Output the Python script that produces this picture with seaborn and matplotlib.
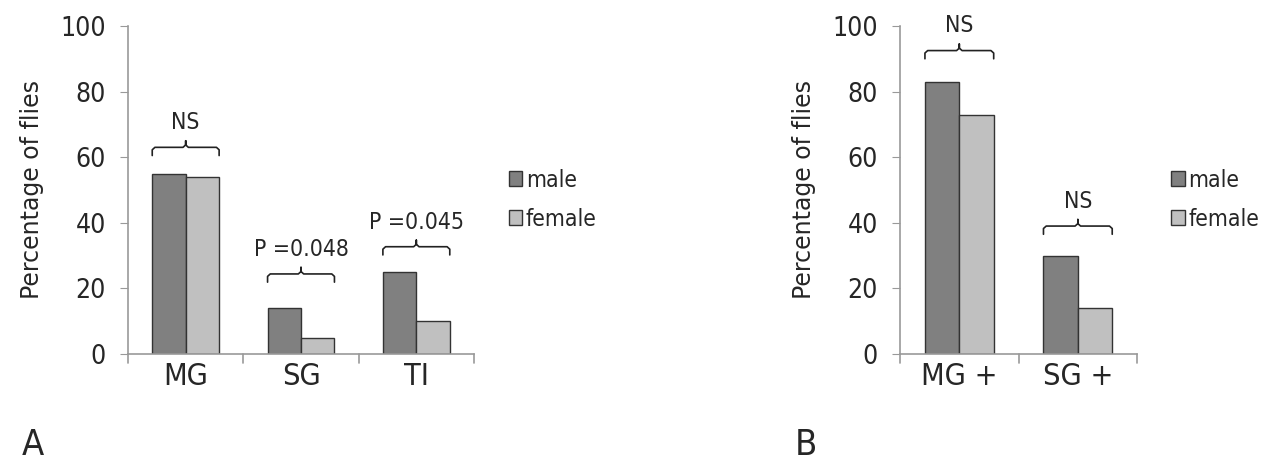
import matplotlib
matplotlib.use("Agg")
import matplotlib.pyplot as plt
import pandas as pd
import seaborn as sns

# Panel A data
cats_a = ["MG", "SG", "TI"]
male_a = [55, 14, 25]
female_a = [54, 5, 10]
notes_a = ["NS", "P =0.048", "P =0.045"]

# Panel B data
cats_b = ["MG +", "SG +"]
male_b = [83, 30]
female_b = [73, 14]
notes_b = ["NS", "NS"]

sexes = ["male", "female"]
colors = ["#808080", "#c0c0c0"]

sns.set_style("white")
plt.rcParams["font.family"] = ["DejaVu Sans"]

NARROW = dict(family=["DejaVu Sans"], fontstretch="condensed")


def to_frame(cats, male, female):
    rows = []
    for c, m, f in zip(cats, male, female):
        rows.append({"cat": c, "sex": "male", "pct": m})
        rows.append({"cat": c, "sex": "female", "pct": f})
    return pd.DataFrame(rows)


def bracket(ax, x0, x1, y, text, h=2.5):
    xm = (x0 + x1) / 2
    r = (x1 - x0) * 0.04
    xs = [x0, x0, x0 + r, xm - r, xm, xm, xm, xm + r, x1 - r, x1, x1]
    ys = [y - h, y - h * 0.3, y, y, y + h * 0.3, y + h * 0.8, y + h * 0.3, y, y, y - h * 0.3, y - h]
    ax.plot(xs, ys, color="#222222", lw=1.2, solid_joinstyle="round")
    ax.text(xm, y + h + 1.5, text, ha="center", va="bottom", fontsize=16.5, **NARROW)


def panel(ax, cats, male, female, notes, bracket_y, legend_x):
    df = to_frame(cats, male, female)
    sns.barplot(data=df, x="cat", y="pct", hue="sex", hue_order=sexes,
                palette=colors, width=0.58, edgecolor="#333333", linewidth=1.0,
                saturation=1, ax=ax)
    ax.set_ylim(0, 100)
    ax.set_xlim(-0.5, len(cats) - 0.5)
    ax.set_yticks(range(0, 101, 20))
    ax.set_xlabel("")
    ax.set_ylabel("Percentage of flies", fontsize=17, labelpad=12)
    for lab in ax.get_yticklabels():
        lab.set_fontsize(19)
        lab.set_fontstretch("condensed")
    ax.set_xticks(range(len(cats)))
    ax.set_xticklabels(cats, fontsize=22, **NARROW)
    ax.tick_params(axis="x", length=0, pad=6)
    ax.tick_params(axis="y", length=6, color="#999999", left=True, pad=10)
    # category separator ticks along the x axis
    for b in [i - 0.5 for i in range(len(cats) + 1)]:
        ax.plot([b, b], [0, -2.8], color="#999999", lw=1.2, clip_on=False)
    sns.despine(ax=ax)
    for s in ["left", "bottom"]:
        ax.spines[s].set_color("#999999")
        ax.spines[s].set_linewidth(1.2)

    # brackets over each group, spanning its bars
    n = len(cats)
    bars = ax.patches[:2 * n]
    for i in range(n):
        left = bars[i].get_x()
        right = bars[n + i].get_x() + bars[n + i].get_width()
        bracket(ax, left, right, bracket_y[i], notes[i])

    leg = ax.legend(loc="center left", bbox_to_anchor=(legend_x, 0.47),
                    frameon=False, handlelength=0.6, handleheight=0.6,
                    handletextpad=0.15, labelspacing=0.7, borderpad=0,
                    borderaxespad=0,
                    prop=dict(family="DejaVu Sans", stretch="condensed", size=16.5))
    for h in leg.legend_handles:
        h.set_edgecolor("#333333")


fig = plt.figure(figsize=(12.65, 4.74), dpi=100)
ax_a = fig.add_axes([0.1012, 0.2532, 0.2735, 0.6920])
ax_b = fig.add_axes([0.7115, 0.2532, 0.1874, 0.6920])

panel(ax_a, cats_a, male_a, female_a, notes_a, [63, 24.4, 32.7], 1.1)
panel(ax_b, cats_b, male_b, female_b, notes_b, [92.5, 39], 1.143)

fig.text(0.017, 0.04, "A", fontsize=26, **NARROW)
fig.text(0.628, 0.04, "B", fontsize=26, **NARROW)

fig.savefig("out.png", dpi=100)
